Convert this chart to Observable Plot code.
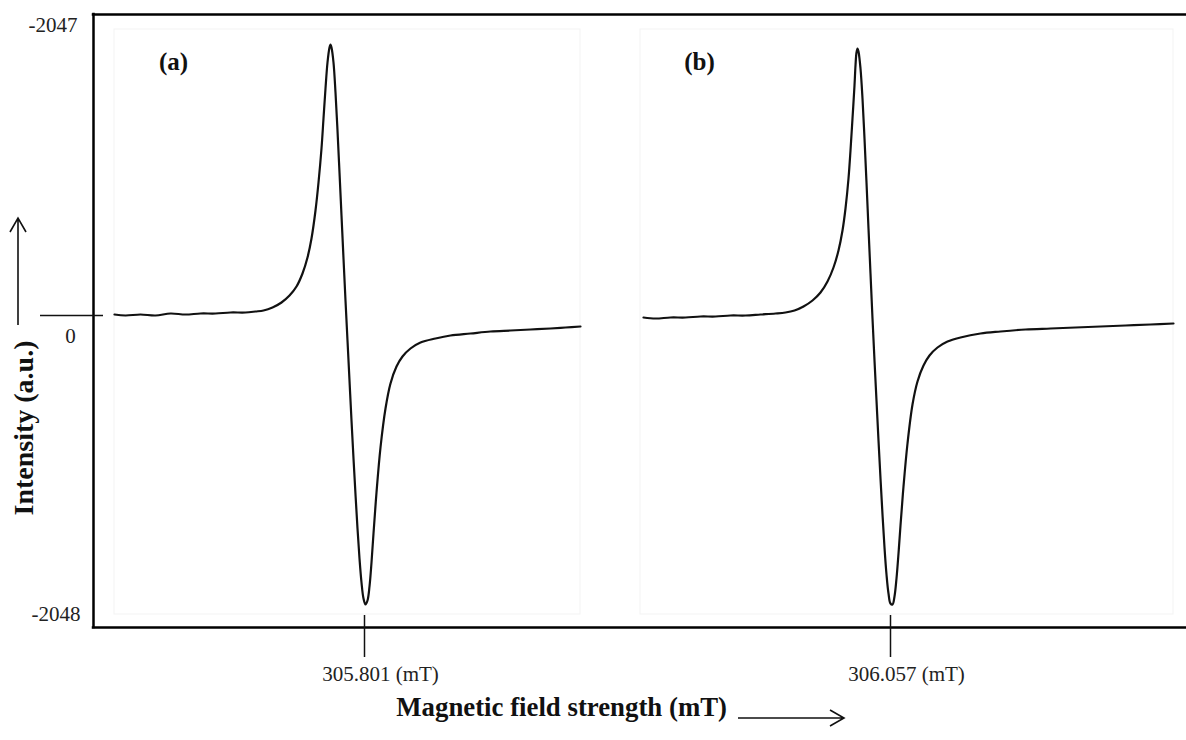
<!DOCTYPE html>
<html><head><meta charset="utf-8">
<script src="https://cdn.jsdelivr.net/npm/d3@7"></script>
<script src="https://cdn.jsdelivr.net/npm/@observablehq/plot@0.6"></script>
<style>body{margin:0;background:#fff} svg{display:block}</style>
</head><body><div id="chart"></div>
<script>
// Spectrum (a): channel positions and intensity (a.u.)
const channelA = [21,32,47,62,77,92,107,122,137,152,162,170,179,188,196,203,209,214,218,222,225,228,230,232,234,236,237,238,240,242,244,246,248,250,252,254,256,258,260,262,264,266,268,270,272,274,276,278,280,283,287,292,297,303,309,317,327,342,357,377,397,417,437,457,472,487];
const intensityA = [1,0,1,0,2,1,2,2,3,3,4,5,8,13,20,29,42,58,77,105,133,167,197,227,253,268,271,268,253,223,185,143,100,57,15,-25,-65,-105,-143,-179,-213,-243,-267,-283,-289,-285,-271,-247,-218,-177,-132,-93,-68,-51,-41,-33,-27,-23,-20,-18,-16,-15,-14,-13,-12,-11];
// Spectrum (b)
const channelB = [550,562,577,592,607,622,637,652,667,682,692,701,710,719,727,734,740,745,749,752,755,757,759,761,762,763,764,765,767,769,771,773,775,777,779,781,783,785,787,789,791,793,795,797,799,801,803,805,807,810,814,819,824,830,836,844,854,867,887,907,932,957,982,1007,1032,1057,1080];
const intensityB = [-2,-3,-2,-2,-1,-1,0,0,1,2,3,5,9,15,23,34,48,65,85,107,137,165,197,230,250,263,267,264,247,217,177,133,87,42,-3,-45,-85,-125,-163,-199,-232,-259,-278,-288,-289,-281,-263,-238,-210,-171,-128,-89,-66,-50,-40,-32,-26,-22,-18,-16,-14,-13,-12,-11,-10,-9,-8];

const panelLabels = ["(a)", "(b)"];
const panelStart = [21, 547];
const panelEnd = [487, 1080];
const panelTop = 286;
const panelBottom = -299;

const fieldTickChannels = [271, 797];
const fieldTickLabels = ["305.801 (mT)", "306.057 (mT)"];
const intensityTickValues = [301, 0, -312];
const intensityTickLabels = ["-2047", "0", "-2048"];

const xTitle = "Magnetic field strength (mT)";
const yTitle = "Intensity (a.u.)";

const rowsA = channelA.map((c, i) => ({channel: c, intensity: intensityA[i], spectrum: "a"}));
const rowsB = channelB.map((c, i) => ({channel: c, intensity: intensityB[i], spectrum: "b"}));
const panels = panelLabels.map((l, i) => ({label: l, x1: panelStart[i], x2: panelEnd[i]}));

const serif = "'Liberation Serif', 'Times New Roman', serif";

const arrows = (index, scales, values, dims) => {
  const g = d3.create("svg:g")
    .attr("fill", "none").attr("stroke", "#111").attr("stroke-width", 1.6);
  const bottom = dims.height - dims.marginBottom;
  const y = bottom + 91, xa = 738, xb = 844;
  g.append("path").attr("d", `M${xa},${y}H${xb}M${xb - 14},${y - 8}L${xb},${y}L${xb - 14},${y + 8}`);
  const x = 18, ya = 325, yb = 218;
  g.append("path").attr("d", `M${x},${ya}V${yb}M${x - 8},${yb + 14}L${x},${yb}L${x + 8},${yb + 14}`);
  return g.node();
};

const chart = Plot.plot({
  width: 1186,
  height: 740,
  marginLeft: 93,
  marginRight: 0,
  marginTop: 14,
  marginBottom: 113,
  x: {domain: [0, 1093], axis: null},
  y: {domain: [intensityTickValues[2], intensityTickValues[0]], axis: null},
  style: {fontFamily: serif, background: "#fff"},
  marks: [
    Plot.rect(panels, {x1: "x1", x2: "x2", y1: panelBottom, y2: panelTop, fill: "none", stroke: "#f3f3f3", strokeWidth: 1}),
    Plot.text(panels, {x: "x1", text: "label", frameAnchor: "top", dx: 59, dy: 38, fontWeight: "bold", fontSize: 25, fill: "#111"}),
    Plot.line(rowsA, {x: "channel", y: "intensity", stroke: "#111", strokeWidth: 2.2, curve: "catmull-rom"}),
    Plot.line(rowsB, {x: "channel", y: "intensity", stroke: "#111", strokeWidth: 2.2, curve: "catmull-rom"}),
    Plot.ruleX([0], {stroke: "#000", strokeWidth: 2.5, strokeLinecap: "square"}),
    Plot.ruleY([intensityTickValues[0], intensityTickValues[2]], {stroke: "#000", strokeWidth: 2.5, strokeLinecap: "square"}),
    Plot.axisY([0], {anchor: "left", label: null, tickSize: 63, dx: 10, tickFormat: () => "", stroke: "#111", strokeWidth: 1.5}),
    Plot.axisX(fieldTickChannels, {anchor: "bottom", label: null, tickSize: 42, dy: -12, tickFormat: () => "", stroke: "#111", strokeWidth: 1.5}),
    Plot.text([intensityTickValues[0]], {y: d => d, text: () => intensityTickLabels[0], frameAnchor: "left", textAnchor: "end", dx: -16, dy: 11, fontSize: 21, fill: "#222"}),
    Plot.text([intensityTickValues[1]], {y: d => d, text: () => intensityTickLabels[1], frameAnchor: "left", textAnchor: "middle", dx: -23, dy: 21, fontSize: 21, fill: "#222"}),
    Plot.text([intensityTickValues[2]], {y: d => d, text: () => intensityTickLabels[2], frameAnchor: "left", textAnchor: "end", dx: -13, dy: -13, fontSize: 21, fill: "#222"}),
    Plot.text(fieldTickChannels, {x: d => d, text: (d, i) => fieldTickLabels[i], frameAnchor: "bottom", dy: 53, dx: 16, fontSize: 21, fill: "#222"}),
    Plot.text([xTitle], {text: d => d, frameAnchor: "bottom", textAnchor: "end", dx: 87, dy: 88, fontWeight: "bold", fontSize: 26.8, fill: "#111"}),
    Plot.text([yTitle], {text: d => d, frameAnchor: "left", textAnchor: "middle", rotate: -90, dx: -69, dy: 107, fontWeight: "bold", fontSize: 28, fill: "#111"}),
    arrows
  ]
});
document.getElementById("chart").appendChild(chart);
</script>
</body></html>
